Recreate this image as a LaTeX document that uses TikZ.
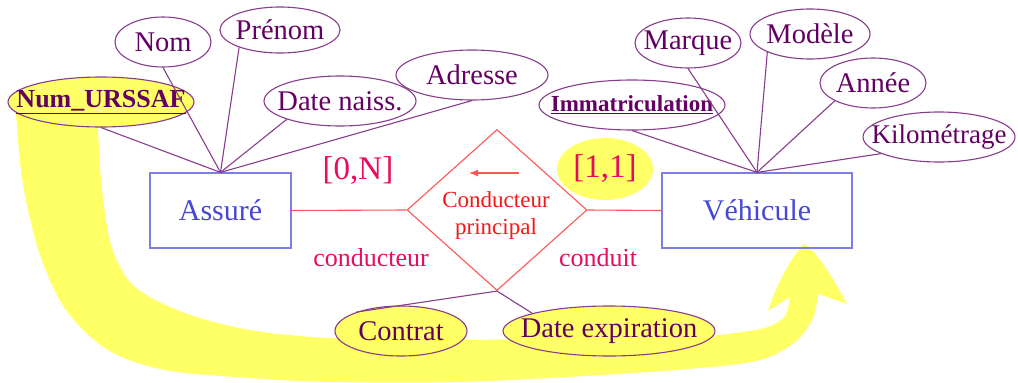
\documentclass[tikz,border=0pt]{standalone}
\usepackage{fontspec}
\setmainfont{Liberation Serif}
\usetikzlibrary{shapes.geometric,arrows.meta}
\definecolor{attrline}{RGB}{135,60,140}
\definecolor{attrtext}{RGB}{100,0,100}
\definecolor{boxline}{RGB}{125,125,230}
\definecolor{boxtext}{RGB}{70,70,215}
\definecolor{relline}{RGB}{255,85,85}
\definecolor{reltext}{RGB}{250,20,20}
\definecolor{cardtext}{RGB}{235,10,95}
\definecolor{hiyellow}{RGB}{255,255,102}
\newcommand\ztxt[1]{\makebox[0pt]{#1}}
\begin{document}
\begin{tikzpicture}[x=1pt,y=-1pt,
  attr/.style={ellipse,draw=attrline,line width=1.1pt,inner sep=0pt,fill=white,
    text=attrtext,minimum height=50,font=\fontsize{28.5}{30}\selectfont},
  keyattr/.style={attr,font=\fontsize{26}{30}\selectfont\bfseries},
  hiattr/.style={attr,fill=hiyellow},
  entity/.style={rectangle,draw=boxline,line width=1.2pt,minimum height=75,
    text=boxtext,font=\fontsize{30}{32}\selectfont},
  relation/.style={diamond,draw=relline,line width=1.1pt,minimum width=180,
    minimum height=161,inner sep=0pt},
  reltxt/.style={text=reltext,align=center,inner sep=0pt,
    font=\fontsize{23}{27}\selectfont},
  card/.style={text=cardtext,inner sep=0pt,font=\fontsize{33}{36}\selectfont},
  role/.style={text=cardtext,inner sep=0pt,font=\fontsize{26}{28}\selectfont},
  attrlink/.style={draw=attrline,line width=1.1pt},
  rellink/.style={draw=relline,line width=1.1pt}]
\useasboundingbox (0,0) rectangle (1018,383);

% big yellow arrow (drawn behind)
\fill[hiyellow] plot[smooth, tension=0.55] coordinates {(15,95) (18,140) (24,190) (40,255) (66,310) (108,350) (165,370) (250,378) (330,382) (460,382) (600,375) (700,368) (760,360) (795,342) (813,318) (818,294)}
  -- (847,304) .. controls (830,272) and (815,250) .. (804,244)
  .. controls (792,256) and (776,285) .. (768,311)
  -- plot[smooth, tension=0.55] coordinates {(790,297) (785,316) (768,327) (735,333) (700,336) (600,337) (460,340) (330,338) (250,330) (185,313) (135,287) (112,248) (102,190) (98,130) (97,95)} -- cycle;

% entities
\node[entity,minimum width=141] (assure) at (220.5,210.5) {Assuré};
\node[entity,minimum width=190] (vehicule) at (757,210.5) {Véhicule};

% relation
\node[relation] (rel) at (497,210) {};
\node[reltxt] (reltitle) at (496,215) {Conducteur\\principal};
\coordinate (arrS) at (519,173);
\coordinate (arrE) at (469,173);
\draw[rellink,-{Latex[length=9pt,width=7pt]}] (arrS) -- (arrE);

% attributes of Assuré
\node[keyattr,fill=hiyellow,minimum width=186] (urssaf) at (101,102) {\ztxt{\underline{Num\_URSSAF}}};
\node[attr,minimum width=96] (nom) at (163,42) {\ztxt{Nom}};
\node[attr,minimum width=120,minimum height=46] (prenom) at (280,30) {\ztxt{Prénom}};
\node[attr,minimum width=152] (naiss) at (340,101) {\ztxt{Date naiss.}};
\node[attr,minimum width=152] (adresse) at (472,75) {\ztxt{Adresse}};

% attributes of Véhicule
\node[keyattr,minimum width=186,font=\fontsize{23}{26}\selectfont\bfseries] (immat) at (632,105) {\ztxt{\underline{Immatriculation}}};
\node[attr,minimum width=106] (marque) at (688,43) {\ztxt{Marque}};
\node[attr,minimum width=120] (modele) at (810,34) {\ztxt{Modèle}};
\node[attr,minimum width=106] (annee) at (873,83) {\ztxt{Année}};
\node[attr,minimum width=152,font=\fontsize{27}{30}\selectfont] (km) at (939,137) {\ztxt{Kilométrage}};

% attributes of relation
\node[hiattr,minimum width=132] (contrat) at (401,331) {\ztxt{Contrat}};
\node[hiattr,minimum width=212] (dateexp) at (609,331) {\ztxt{Date expiration}};

% cardinalities and roles
\node[card] (c0n) at (358,171) {[0,N]};
\node[card,ellipse,fill=hiyellow,minimum width=96,minimum height=62] (c11) at (605,169) {\ztxt{[1,1]}};
\node[role] (rconducteur) at (371,258) {conducteur};
\node[role] (rconduit) at (598,258) {conduit};

% links
\path[attrlink] (assure.north) -- (urssaf.south);
\path[attrlink] (assure.north) -- (nom.south);
\path[attrlink] (assure.north) -- (prenom.203);
\path[attrlink] (assure.north) -- (naiss.199);
\path[attrlink] (assure.north) -- (adresse.south);
\path[attrlink] (vehicule.north) -- (immat.south);
\path[attrlink] (vehicule.north) -- (marque.south);
\path[attrlink] (vehicule.north) -- (modele.203);
\path[attrlink] (vehicule.north) -- (annee.205);
\path[attrlink] (vehicule.north) -- (km.196);
\path[attrlink] (rel.south) -- (contrat.157);
\path[attrlink] (rel.south) -- (dateexp.167);
\path[rellink] (assure.east) -- (rel.west);
\path[rellink] (rel.east) -- (vehicule.west);
\end{tikzpicture}
\end{document}
